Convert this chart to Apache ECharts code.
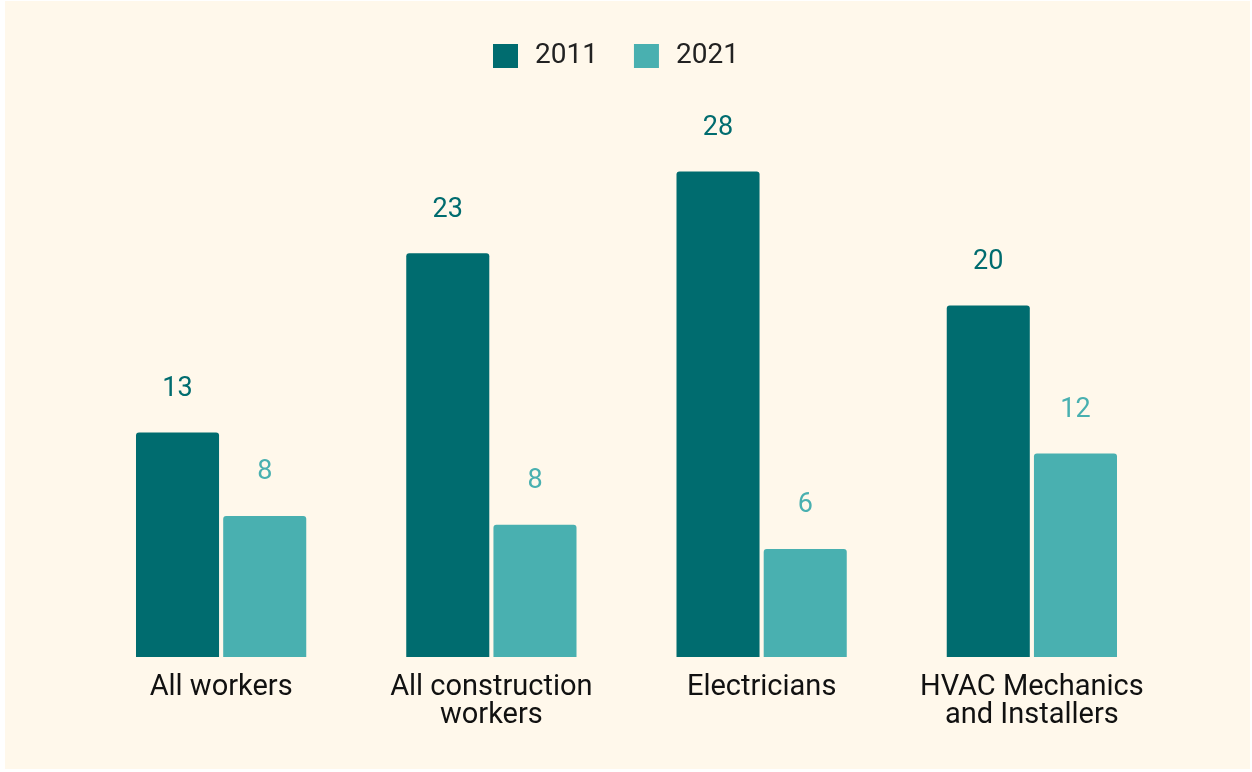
<!DOCTYPE html>
<html>
<head>
<meta charset="utf-8">
<script src="https://cdn.jsdelivr.net/npm/echarts@6/dist/echarts.min.js"></script>
<style>
    html, body { margin: 0; padding: 0; background: #ffffff; }
    #chart { position: absolute; left: 5px; top: 1px; width: 1245px; height: 768px; background: #fff8eb; }
</style>
</head>
<body>
<div id="chart"></div>
<script>
    var categories = ["All workers", "All construction\nworkers", "Electricians", "HVAC Mechanics\nand Installers"];
    var years = ["2011", "2021"];
    var values2011 = [12.9, 23.2, 27.9, 20.2];
    var values2021 = [8.1, 7.6, 6.2, 11.7];

    var dark = "#006c6f";
    var light = "#49b0b0";

    var roundLabel = function (p) {
        return Math.round(p.value);
    };

    var myChart = echarts.init(document.getElementById("chart"));
    var option = {
        backgroundColor: "#fff8eb",
        textStyle: { fontFamily: "Roboto" },
        legend: {
            top: 36,
            left: 483,
            itemWidth: 25,
            itemHeight: 24,
            itemGap: 36,
            icon: "rect",
            textStyle: { fontSize: 28, color: "#222222", padding: [0, 0, 0, 12] },
            data: years
        },
        grid: { left: 81, right: 83, top: 134, bottom: 112 },
        xAxis: {
            type: "category",
            data: categories,
            axisLine: { show: false },
            axisTick: { show: false },
            axisLabel: { color: "#111111", fontSize: 29, lineHeight: 28, margin: 17, interval: 0 }
        },
        yAxis: {
            type: "value",
            min: 0,
            max: 30,
            show: false,
            splitLine: { show: false }
        },
        series: [
            {
                name: years[0],
                type: "bar",
                data: values2011,
                barCategoryGap: "37%",
                barGap: "5%",
                itemStyle: { color: dark, borderRadius: [3, 3, 0, 0] },
                label: { show: true, position: "top", distance: 30, color: dark, fontSize: 27, formatter: roundLabel }
            },
            {
                name: years[1],
                type: "bar",
                data: values2021,
                itemStyle: { color: light, borderRadius: [3, 3, 0, 0] },
                label: { show: true, position: "top", distance: 30, color: light, fontSize: 27, formatter: roundLabel }
            }
        ]
    };
    myChart.setOption(option);
</script>
</body>
</html>
